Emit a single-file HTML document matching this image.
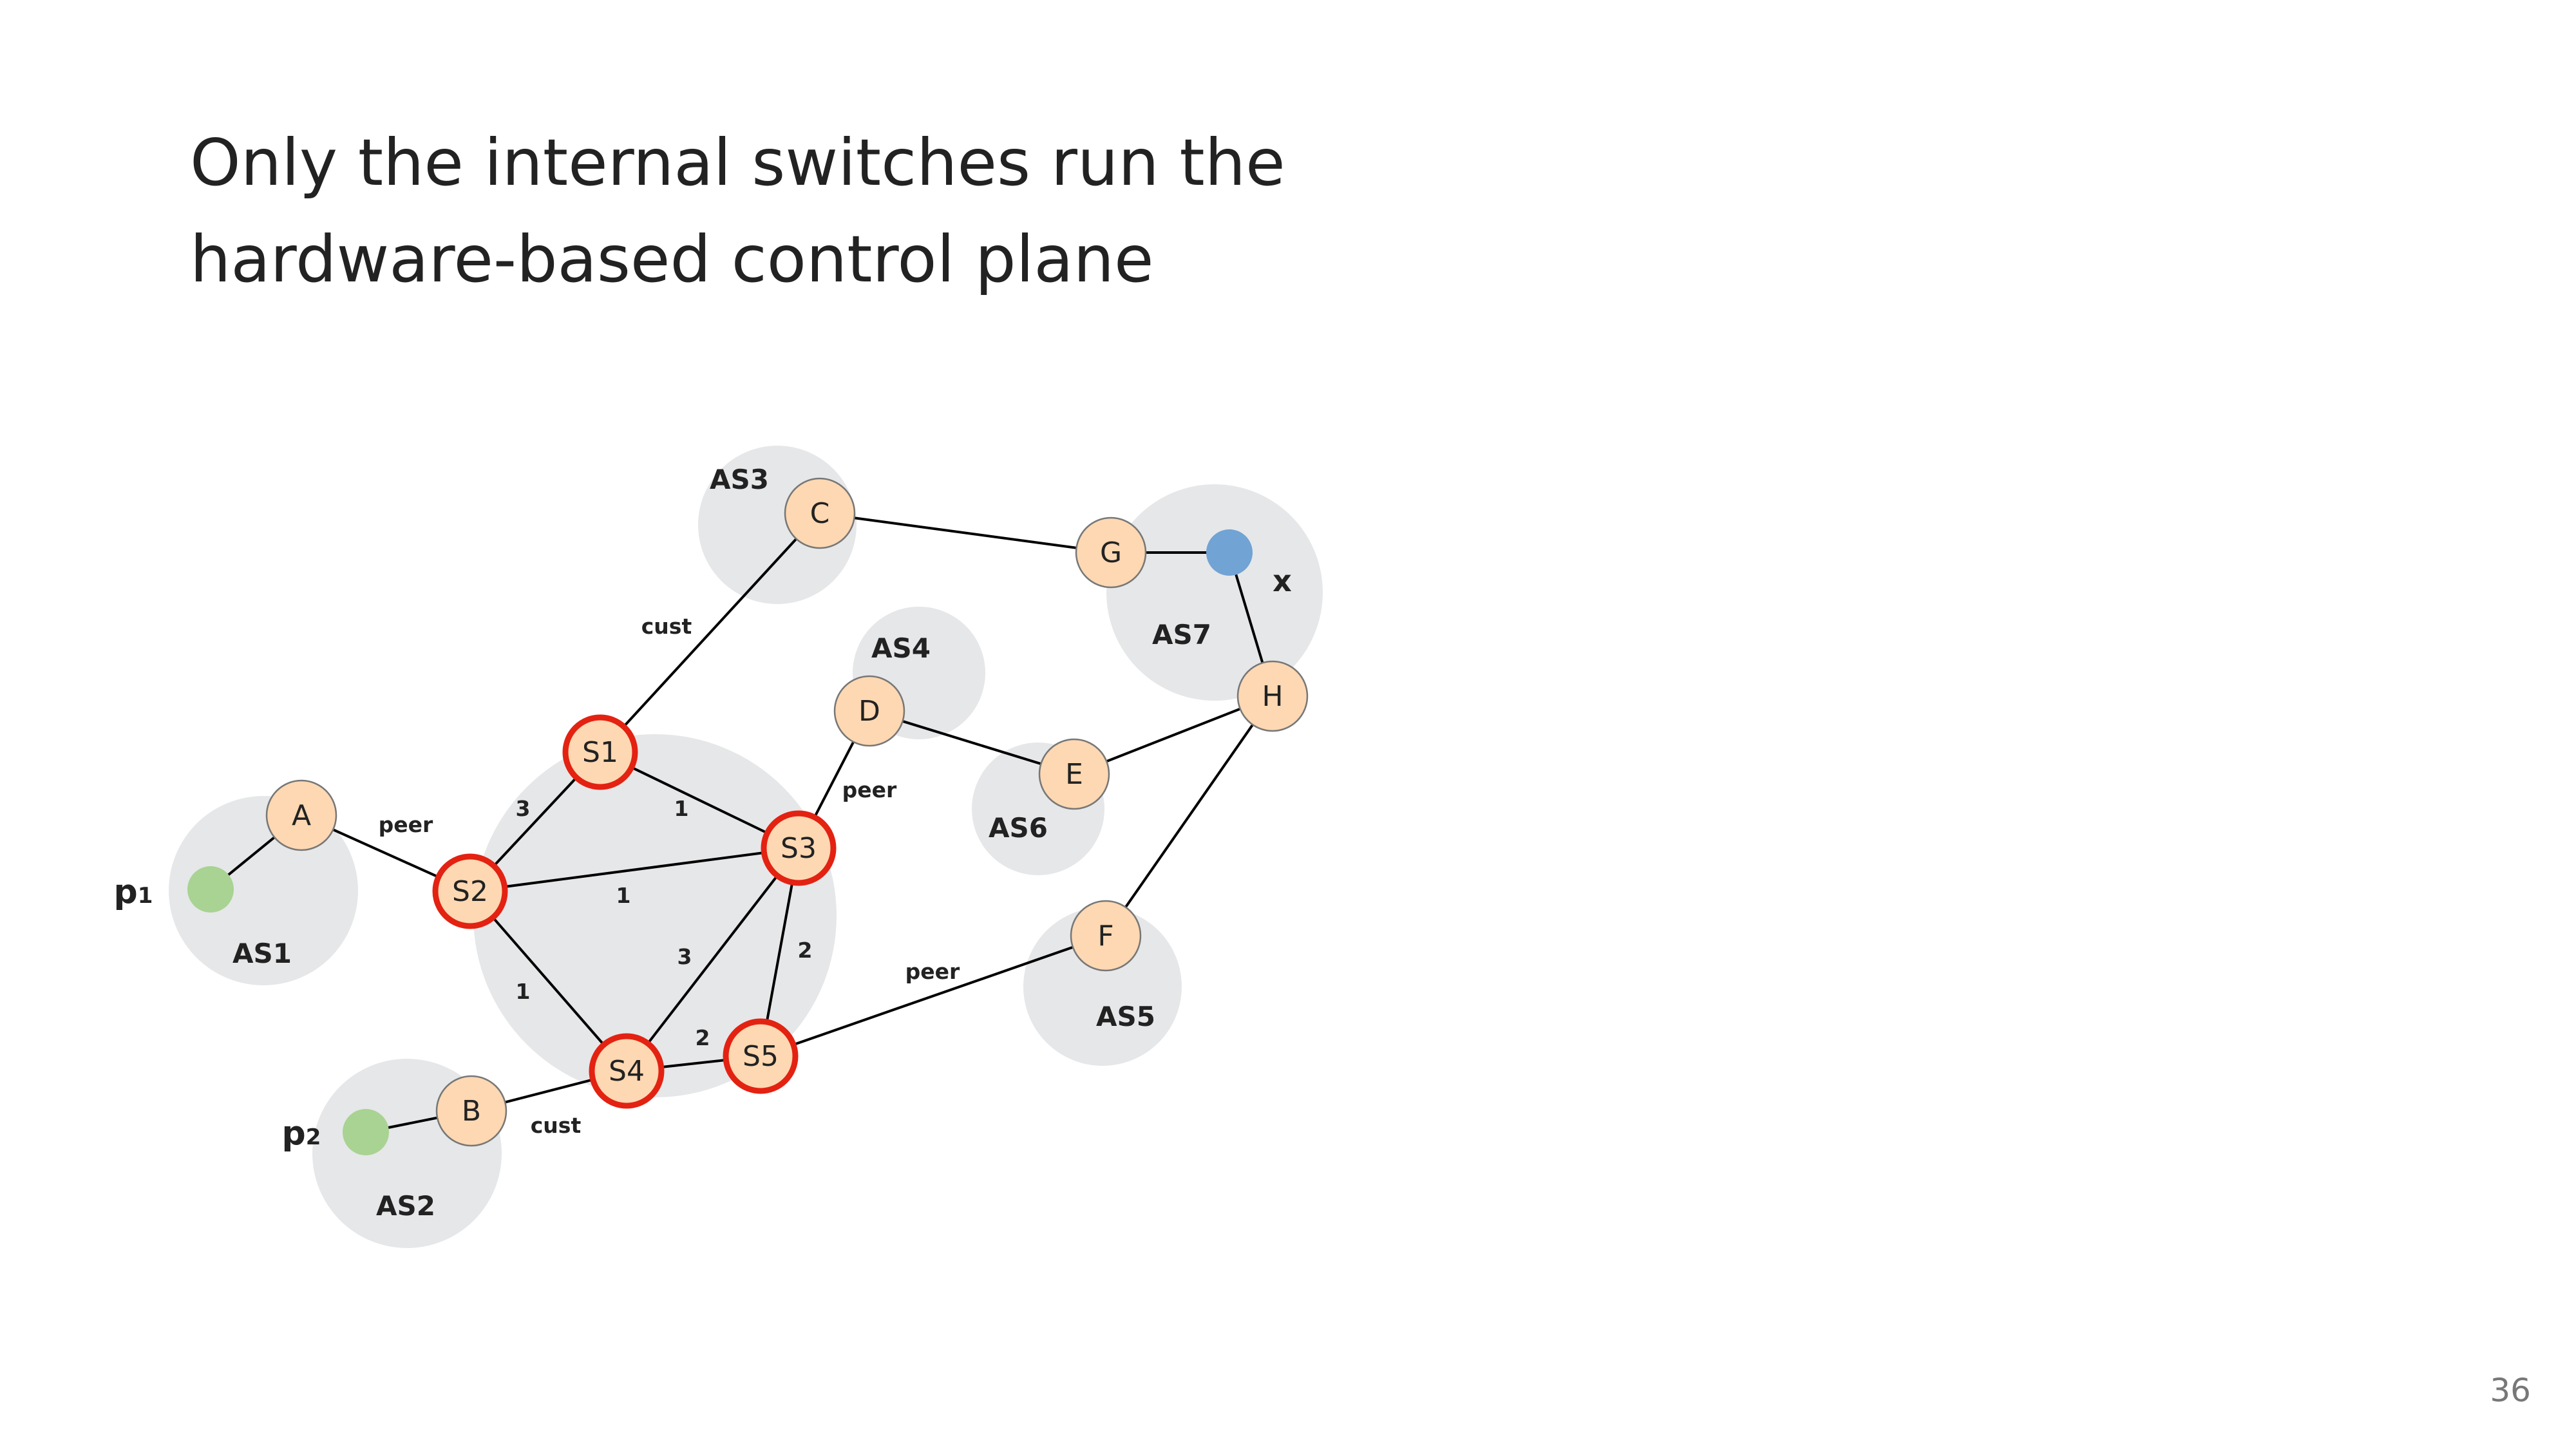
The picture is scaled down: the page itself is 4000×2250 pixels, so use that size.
<!DOCTYPE html>
<html><head><meta charset="utf-8"><style>
html,body{margin:0;padding:0;background:#fff;}
svg{display:block;}
</style></head><body>
<svg width="4000" height="2250" viewBox="0 0 4000 2250" xmlns="http://www.w3.org/2000/svg" font-family="'DejaVu Sans','Liberation Sans',sans-serif">
<rect width="4000" height="2250" fill="#fff"/>
<text x="295" y="287" font-size="100" fill="#222">Only the internal switches run the</text>
<text x="295" y="437" font-size="100" fill="#222">hardware-based control plane</text>
<text x="3930" y="2176" font-size="50" fill="#777" text-anchor="end">36</text>
<g transform="translate(-6,-6)">
<g fill="#e6e7e9">
<circle cx="1213" cy="821" r="123"/>
<circle cx="1892" cy="926" r="168"/>
<circle cx="1433" cy="1051" r="103"/>
<circle cx="1618" cy="1262" r="103"/>
<circle cx="415" cy="1389" r="147"/>
<circle cx="1023" cy="1428" r="282"/>
<circle cx="1718" cy="1538" r="123"/>
<circle cx="638" cy="1797" r="147"/>
</g>
<g stroke="#000" stroke-width="4">
<line x1="1279" y1="803" x2="1731" y2="864"/>
<line x1="1731" y1="864" x2="1915" y2="864"/>
<line x1="1915" y1="864" x2="1982" y2="1087"/>
<line x1="1982" y1="1087" x2="1674" y2="1208"/>
<line x1="1356" y1="1110" x2="1674" y2="1208"/>
<line x1="1982" y1="1087" x2="1723" y2="1459"/>
<line x1="1723" y1="1459" x2="1187" y2="1646"/>
<line x1="1279" y1="803" x2="938" y2="1174"/>
<line x1="1356" y1="1110" x2="1246" y2="1323"/>
<line x1="474" y1="1272" x2="333" y2="1387"/>
<line x1="474" y1="1272" x2="736" y2="1390"/>
<line x1="938" y1="1174" x2="736" y2="1390"/>
<line x1="938" y1="1174" x2="1246" y2="1323"/>
<line x1="736" y1="1390" x2="1246" y2="1323"/>
<line x1="736" y1="1390" x2="979" y2="1669"/>
<line x1="1246" y1="1323" x2="979" y2="1669"/>
<line x1="1246" y1="1323" x2="1187" y2="1646"/>
<line x1="979" y1="1669" x2="1187" y2="1646"/>
<line x1="979" y1="1669" x2="738" y2="1731"/>
<line x1="738" y1="1731" x2="574" y2="1764"/>
</g>
<circle cx="333" cy="1387" r="36" fill="#a8d392"/>
<circle cx="574" cy="1764" r="36" fill="#a8d392"/>
<circle cx="1915" cy="864" r="36" fill="#71a3d4"/>
<g fill="#fdd8b2" stroke="#777" stroke-width="2.5">
<circle cx="1279" cy="803" r="54"/>
<circle cx="1731" cy="864" r="54"/>
<circle cx="1982" cy="1087" r="54"/>
<circle cx="1356" cy="1110" r="54"/>
<circle cx="1674" cy="1208" r="54"/>
<circle cx="1723" cy="1459" r="54"/>
<circle cx="474" cy="1272" r="54"/>
<circle cx="738" cy="1731" r="54"/>
</g>
<g fill="#fdd8b2" stroke="#e32212" stroke-width="9">
<circle cx="938" cy="1174" r="54"/>
<circle cx="1246" cy="1323" r="54"/>
<circle cx="736" cy="1390" r="54"/>
<circle cx="979" cy="1669" r="54"/>
<circle cx="1187" cy="1646" r="54"/>
</g>
<g font-size="44" fill="#222" text-anchor="middle">
<text x="1279" y="818">C</text>
<text x="1731" y="879">G</text>
<text x="1982" y="1102">H</text>
<text x="1356" y="1125">D</text>
<text x="1674" y="1223">E</text>
<text x="1723" y="1474">F</text>
<text x="474" y="1287">A</text>
<text x="738" y="1746">B</text>
<text x="938" y="1189">S1</text>
<text x="1246" y="1338">S3</text>
<text x="736" y="1405">S2</text>
<text x="979" y="1684">S4</text>
<text x="1187" y="1661">S5</text>
</g>
<g font-size="42" font-weight="bold" fill="#222" text-anchor="middle">
<text x="1154" y="765">AS3</text>
<text x="1405" y="1027">AS4</text>
<text x="1841" y="1006">AS7</text>
<text x="1587" y="1306">AS6</text>
<text x="413" y="1501">AS1</text>
<text x="1754" y="1599">AS5</text>
<text x="636" y="1893">AS2</text>
<text x="1997" y="924" font-size="46">x</text>
<text x="213" y="1408" font-size="52">p<tspan font-size="34">1</tspan></text>
<text x="474" y="1783" font-size="52">p<tspan font-size="34">2</tspan></text>
</g>
<g font-size="33" font-weight="bold" fill="#222" text-anchor="middle">
<text x="1041" y="990">cust</text>
<text x="636" y="1298">peer</text>
<text x="1356" y="1244">peer</text>
<text x="1454" y="1526">peer</text>
<text x="869" y="1765">cust</text>
<text x="818" y="1273">3</text>
<text x="1064" y="1273">1</text>
<text x="974" y="1408">1</text>
<text x="1069" y="1503">3</text>
<text x="1256" y="1493">2</text>
<text x="818" y="1557">1</text>
<text x="1097" y="1629">2</text>
</g>
</g>
</svg>
</body></html>
